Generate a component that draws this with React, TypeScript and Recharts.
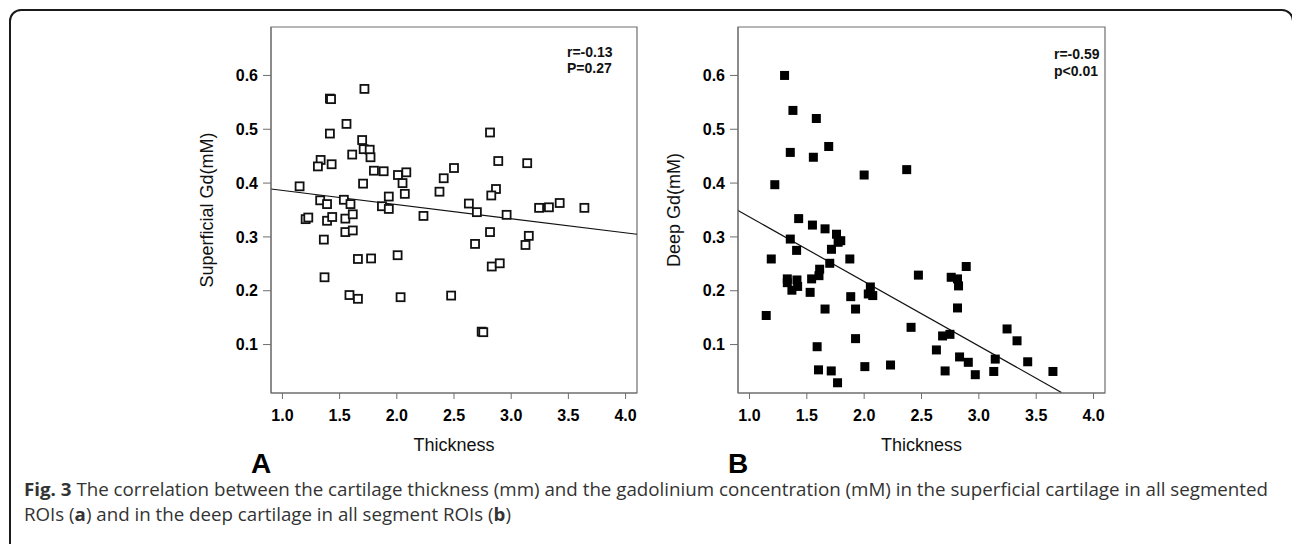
import {
  ScatterChart,
  Scatter,
  XAxis,
  YAxis,
  ReferenceLine,
  ReferenceArea,
} from 'recharts'

const xTicks = [1.0, 1.5, 2.0, 2.5, 3.0, 3.5, 4.0]
const yTicks = [0.1, 0.2, 0.3, 0.4, 0.5, 0.6]

// panel A: superficial cartilage
const superficialThickness = [
  1.15, 1.415, 1.425, 1.717, 1.56, 1.415, 1.697, 1.71, 1.763, 1.77, 1.61, 1.334, 1.31, 1.43,
  1.8, 1.885, 2.01, 2.083, 2.05, 2.07, 1.705, 1.93, 2.373, 2.41, 2.5, 2.815, 2.887, 2.867,
  2.826, 3.14, 2.63, 2.7, 2.96, 3.244, 3.33, 3.424, 3.64, 1.33, 1.39, 1.537, 1.595, 1.87,
  1.93, 1.203, 1.226, 1.39, 1.435, 1.55, 1.615, 1.55, 1.615, 1.362, 1.368, 1.66, 1.775,
  2.007, 1.586, 1.66, 2.033, 2.475, 2.233, 2.684, 2.815, 2.83, 2.9, 2.742, 2.756, 3.125,
  3.154,
]
const superficialGd = [
  0.394, 0.557, 0.556, 0.575, 0.51, 0.492, 0.48, 0.463, 0.462, 0.448, 0.453, 0.443, 0.431,
  0.435, 0.423, 0.422, 0.415, 0.42, 0.4, 0.38, 0.399, 0.375, 0.384, 0.409, 0.428, 0.494,
  0.441, 0.389, 0.377, 0.437, 0.362, 0.346, 0.341, 0.354, 0.355, 0.363, 0.354, 0.368, 0.361,
  0.369, 0.361, 0.357, 0.352, 0.333, 0.336, 0.33, 0.337, 0.334, 0.342, 0.309, 0.312, 0.295,
  0.225, 0.259, 0.26, 0.266, 0.192, 0.185, 0.188, 0.191, 0.339, 0.287, 0.309, 0.245, 0.251,
  0.124, 0.123, 0.285, 0.302,
]
const superficialFitX = [0.9, 4.1]
const superficialFitY = [0.389, 0.305]

// panel B: deep cartilage
const deepThickness = [
  1.306, 1.379, 1.583, 1.356, 1.557, 1.691, 2.0, 2.371, 1.221, 1.429, 1.549, 1.659, 1.759,
  1.773, 1.796, 1.715, 1.356, 1.411, 1.19, 1.7, 1.875, 1.612, 1.606, 1.542, 1.33, 1.414,
  1.33, 1.37, 1.42, 1.529, 2.054, 2.036, 2.075, 1.883, 1.659, 1.925, 1.146, 2.473, 2.759,
  2.814, 2.823, 2.89, 2.814, 2.409, 2.684, 2.748, 3.246, 3.333, 2.63, 1.59, 1.925, 2.832,
  2.908, 3.143, 3.426, 2.006, 2.23, 1.602, 1.713, 1.768, 2.706, 2.969, 3.13, 3.646,
]
const deepGd = [
  0.6, 0.535, 0.52, 0.457, 0.448, 0.468, 0.415, 0.425, 0.397, 0.334, 0.322, 0.315, 0.305,
  0.29, 0.293, 0.277, 0.296, 0.275, 0.259, 0.251, 0.259, 0.24, 0.228, 0.222, 0.222, 0.22,
  0.215, 0.201, 0.208, 0.197, 0.207, 0.194, 0.191, 0.189, 0.166, 0.166, 0.154, 0.229, 0.225,
  0.222, 0.209, 0.245, 0.168, 0.132, 0.116, 0.119, 0.129, 0.107, 0.09, 0.096, 0.111, 0.077,
  0.067, 0.073, 0.068, 0.059, 0.062, 0.053, 0.051, 0.029, 0.051, 0.044, 0.05, 0.05,
]
const deepFitX = [0.9, 3.72]
const deepFitY = [0.349, 0.011]

const FONT = 'Arial, "Liberation Sans", Helvetica, sans-serif'
const FRAME = '#6e6e6e'

const HollowSquare = (props: any) => (
  <rect x={props.cx - 4} y={props.cy - 4} width={8} height={8} fill="#fff" stroke="#111" strokeWidth={1.8} />
)
const FilledSquare = (props: any) => (
  <rect x={props.cx - 4.5} y={props.cy - 4.5} width={9} height={9} fill="#000" />
)

const yTitle = (value: string) => (props: any) => {
  const vb = props.viewBox
  const cx = vb.x - 4
  const cy = vb.y + vb.height / 2
  return (
    <text x={cx} y={cy} transform={`rotate(-90 ${cx} ${cy})`} textAnchor="middle" dominantBaseline="central" fontSize={18} fill="#111" fontFamily={FONT}>
      {value}
    </text>
  )
}

const xTitle = (value: string) => (props: any) => {
  const vb = props.viewBox
  return (
    <text x={vb.x + vb.width / 2} y={vb.y + vb.height + 28} textAnchor="middle" fontSize={18} fill="#111" fontFamily={FONT}>
      {value}
    </text>
  )
}

interface PanelProps {
  xs: number[]
  ys: number[]
  fitX: number[]
  fitY: number[]
  yLabel: string
  filled: boolean
  left: number
  width: number
  marginLeft: number
}

function Panel({ xs, ys, fitX, fitY, yLabel, filled, left, width, marginLeft }: PanelProps) {
  const data = xs.map((x, i) => ({ x, y: ys[i] }))
  return (
    <div style={{ position: 'absolute', left, top: 0 }}>
      <ScatterChart width={width} height={480} margin={{ top: 27, right: 13, bottom: 57, left: marginLeft }}>
        <XAxis
          type="number"
          dataKey="x"
          domain={[0.9, 4.1]}
          allowDataOverflow
          ticks={xTicks}
          tickFormatter={(v) => Number(v).toFixed(1)}
          height={30}
          tickSize={6}
          tickMargin={11}
          stroke={FRAME}
          tick={{ fill: '#000', fontSize: 16, fontWeight: 'bold', fontFamily: FONT }}
          label={xTitle('Thickness')}
        />
        <YAxis
          type="number"
          dataKey="y"
          domain={[0.01, 0.69]}
          allowDataOverflow
          ticks={yTicks}
          tickFormatter={(v) => Number(v).toFixed(1)}
          width={60}
          tickSize={8}
          tickMargin={5}
          stroke={FRAME}
          tick={{ fill: '#000', fontSize: 16, fontWeight: 'bold', fontFamily: FONT }}
          label={yTitle(yLabel)}
        />
        <ReferenceArea x1={0.9} x2={4.1} y1={0.01} y2={0.69} fill="none" stroke={FRAME} strokeWidth={1.2} />
        <ReferenceLine
          segment={[
            { x: fitX[0], y: fitY[0] },
            { x: fitX[1], y: fitY[1] },
          ]}
          stroke="#111"
          strokeWidth={1.2}
        />
        <Scatter data={data} shape={filled ? FilledSquare : HollowSquare} isAnimationActive={false} />
      </ScatterChart>
    </div>
  )
}

export default function App() {
  return (
    <div style={{ position: 'absolute', left: 0, top: 0, width: 1292, height: 544, overflow: 'hidden', background: '#fff', fontFamily: FONT }}>
      <div style={{ position: 'absolute', left: 9, top: 9, width: 1281, height: 600, border: '2px solid #1a1a1a', borderRadius: 12 }} />
      <Panel xs={superficialThickness} ys={superficialGd} fitX={superficialFitX} fitY={superficialFitY} yLabel="Superficial Gd(mM)" filled={false} left={180} width={470} marginLeft={31} />
      <Panel xs={deepThickness} ys={deepGd} fitX={deepFitX} fitY={deepFitY} yLabel="Deep Gd(mM)" filled left={650} width={468} marginLeft={28} />
      <svg width={1292} height={544} style={{ position: 'absolute', left: 0, top: 0, pointerEvents: 'none' }}>
        <g fontFamily={FONT} fontWeight="bold" fontSize={14} fill="#111">
          <text x={567} y={56.7}>r=-0.13</text>
          <text x={567} y={73.3}>P=0.27</text>
          <text x={1054} y={59}>r=-0.59</text>
          <text x={1054} y={75.5}>p&lt;0.01</text>
        </g>
        <g fontFamily={FONT} fontWeight="bold" fontSize={28} fill="#000">
          <text x={251} y={473}>A</text>
          <text x={728} y={473}>B</text>
        </g>
        <g fontFamily='"Open Sans", sans-serif' fontSize={17.5} fill="#333">
          <text x={24} y={496} textLength={1244} lengthAdjust="spacingAndGlyphs">
            <tspan fontWeight="bold">Fig. 3</tspan> The correlation between the cartilage thickness (mm) and the gadolinium concentration (mM) in the superficial cartilage in all segmented
          </text>
          <text x={24} y={520.5} textLength={487} lengthAdjust="spacingAndGlyphs">
            ROIs (<tspan fontWeight="bold">a</tspan>) and in the deep cartilage in all segment ROIs (<tspan fontWeight="bold">b</tspan>)
          </text>
        </g>
      </svg>
    </div>
  )
}
